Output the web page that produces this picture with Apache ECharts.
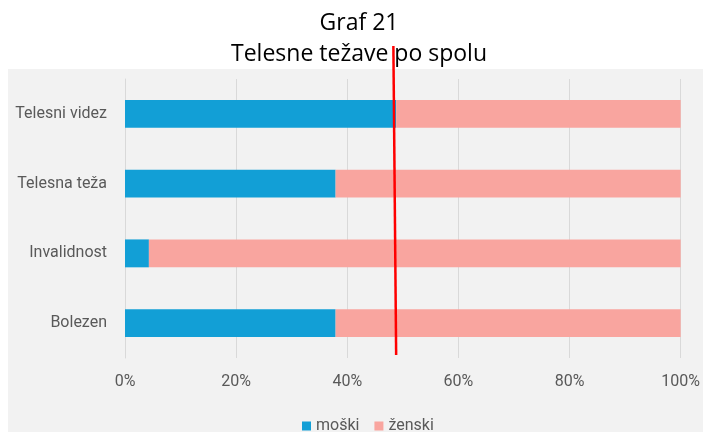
<!DOCTYPE html>
<html>
<head>
<meta charset="utf-8">
<script src="https://cdn.jsdelivr.net/npm/echarts@6/dist/echarts.min.js"></script>
<style>
  html, body { margin: 0; padding: 0; background: #ffffff; }
  #chart { width: 703px; height: 432px; }
</style>
</head>
<body>
<div id="chart"></div>
<script>
// Categories listed bottom to top (category axis grows upward)
const categories = ['Bolezen', 'Invalidnost', 'Telesna teža', 'Telesni videz'];
const moski = [37.9, 4.3, 37.9, 48.8];
const zenski = [62.1, 95.7, 62.1, 51.2];
const xTicks = [0, 20, 40, 60, 80, 100];
// Reference line (percent): slight lean from top to bottom
const refLineTop = 48.3;
const refLineBottom = 48.8;

const labelFont = 'Roboto';
const chart = echarts.init(document.getElementById('chart'), null, { renderer: 'canvas' });

const option = {
  backgroundColor: '#ffffff',
  animation: false,
  title: {
    text: 'Graf 21\nTelesne težave po spolu',
    left: 359,
    textAlign: 'center',
    top: 8,
    padding: 0,
    textStyle: {
      fontFamily: 'Open Sans',
      fontSize: 23,
      fontWeight: 'normal',
      color: '#000000',
      lineHeight: 31
    }
  },
  graphic: [{
    type: 'rect',
    z: -10,
    silent: true,
    shape: { x: 8, y: 69, width: 695, height: 363 },
    style: { fill: '#f2f2f2' }
  }],
  legend: {
    data: ['moški', 'ženski'],
    top: 413,
    left: 297,
    itemWidth: 9,
    itemHeight: 9,
    itemGap: 15,
    icon: 'rect',
    textStyle: { fontFamily: labelFont, fontSize: 16, color: '#595959' }
  },
  grid: { left: 125, right: 21, top: 79, bottom: 74, containLabel: false },
  xAxis: {
    type: 'value',
    min: xTicks[0],
    max: xTicks[xTicks.length - 1],
    interval: 20,
    axisLine: { show: false },
    axisTick: { show: false },
    splitLine: { show: true, lineStyle: { color: '#d9d9d9', width: 1 } },
    axisLabel: {
      formatter: v => v + '%',
      fontFamily: labelFont,
      fontSize: 16,
      color: '#595959',
      margin: 16
    }
  },
  yAxis: {
    type: 'category',
    data: categories,
    axisLine: { show: true, lineStyle: { color: '#d9d9d9', width: 1 } },
    axisTick: { show: false },
    axisLabel: { fontFamily: labelFont, fontSize: 16, color: '#595959', margin: 18 }
  },
  series: [
    {
      name: 'moški',
      type: 'bar',
      stack: 'total',
      barWidth: '40%',
      itemStyle: { color: '#129fd6' },
      data: moski
    },
    {
      name: 'ženski',
      type: 'bar',
      stack: 'total',
      barWidth: '40%',
      itemStyle: { color: '#f9a59f' },
      data: zenski
    }
  ]
};

chart.setOption(option);

// Red reference line, positioned through the x axis scale
const xTop = chart.convertToPixel({ xAxisIndex: 0 }, refLineTop);
const xBottom = chart.convertToPixel({ xAxisIndex: 0 }, refLineBottom);
const gridRect = chart.getModel().getComponent('grid').coordinateSystem.getRect();
chart.setOption({
  graphic: [
    option.graphic[0],
    {
      type: 'line',
      z: 100,
      silent: true,
      shape: { x1: xTop, y1: gridRect.y - 33, x2: xBottom, y2: gridRect.y + gridRect.height - 3 },
      style: { stroke: '#ff0000', lineWidth: 2.5 }
    }
  ]
});
</script>
</body>
</html>
